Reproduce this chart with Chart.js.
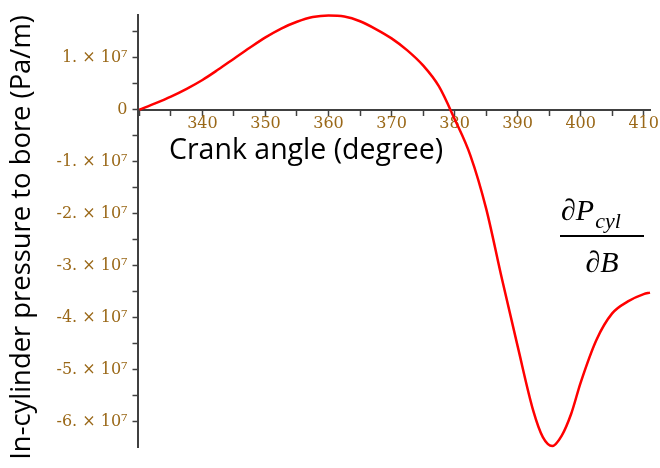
<!DOCTYPE html>
<html>
<head>
<meta charset="utf-8">
<title>In-cylinder pressure to bore</title>
<script src="https://cdn.jsdelivr.net/npm/chart.js@4/dist/chart.umd.min.js"></script>
<style>
  html, body { margin: 0; padding: 0; background: #fff; }
</style>
</head>
<body>
<canvas id="pressureChart" width="660" height="468"></canvas>
<script>
// values
const crankAngle = [330, 332.5, 335, 337.5, 340, 342.5, 345, 347.5, 350, 352.5, 355, 357.5, 360, 362.5,
  365, 367.5, 370, 372.5, 375, 377.5, 380, 382.5, 385, 387.5, 390, 392.5, 394, 395.5, 397, 398.5, 400,
  402.5, 405, 407.5, 410, 411];
const dPdB = [0, 0.12e7, 0.25e7, 0.40e7, 0.57e7, 0.77e7, 0.98e7, 1.19e7, 1.39e7, 1.56e7, 1.69e7, 1.78e7, 1.81e7, 1.79e7,
  1.70e7, 1.55e7, 1.37e7, 1.14e7, 0.85e7, 0.45e7, -0.18e7, -0.88e7, -1.9e7, -3.25e7, -4.55e7, -5.8e7, -6.3e7, -6.47e7, -6.27e7, -5.85e7, -5.25e7,
  -4.43e7, -3.92e7, -3.69e7, -3.55e7, -3.52e7];

// tick marks (every 5 degrees / 0.5e7) and the ones that get a label
const xTicks = [330, 335, 340, 345, 350, 355, 360, 365, 370, 375, 380, 385, 390, 395, 400, 405, 410];
const xLabelled = [340, 350, 360, 370, 380, 390, 400, 410];
const yTicks = [1.5e7, 1e7, 0.5e7, 0, -0.5e7, -1e7, -1.5e7, -2e7, -2.5e7, -3e7, -3.5e7, -4e7, -4.5e7, -5e7, -5.5e7, -6e7];
const yLabelled = [1e7, 0, -1e7, -2e7, -3e7, -4e7, -5e7, -6e7];

const xTitle = 'Crank angle (degree)';
const yTitle = 'In-cylinder pressure to bore (Pa/m)';

const axisColor = '#404040';
const tickColor = '#9a6818';

function yLabel(v) {                 // maple style "-3. × 10^7"
  if (!yLabelled.includes(v)) return '';
  if (v === 0) return '0';
  return (v < 0 ? '-' : '') + Math.abs(v / 1e7) + '. \u00d7 10\u2077';
}

function fitFont(ctx, text, family, width) {   // font size so the text is this wide
  ctx.font = '20px ' + family;
  const size = 20 * width / ctx.measureText(text).width;
  return size.toFixed(1) + 'px ' + family;
}

const annotations = {                // axis titles + the formula, drawn on top
  id: 'annotations',
  afterDraw(chart) {
    const ctx = chart.ctx;
    ctx.save();
    ctx.fillStyle = '#000';
    ctx.textBaseline = 'middle';
    ctx.textAlign = 'left';
    ctx.font = fitFont(ctx, xTitle, '"Open Sans"', 274);
    ctx.fillText(xTitle, 169, 151);

    ctx.save();
    ctx.font = fitFont(ctx, yTitle, '"Open Sans"', 445);
    ctx.translate(22, 237.5);
    ctx.rotate(-Math.PI / 2);
    ctx.textAlign = 'center';
    ctx.fillText(yTitle, 0, 0);
    ctx.restore();

    // dP_cyl / dB
    ctx.textBaseline = 'alphabetic';
    ctx.font = 'italic 30px "Liberation Serif"';
    ctx.fillText('\u2202P', 561, 220);
    const w = ctx.measureText('\u2202P').width;
    ctx.font = 'italic 22px "Liberation Serif"';
    ctx.fillText('cyl', 561 + w + 1, 228);
    ctx.fillRect(560, 235, 84, 2);
    ctx.font = 'italic 30px "Liberation Serif"';
    ctx.textAlign = 'center';
    ctx.fillText('\u2202B', 602, 272);
    ctx.restore();
  }
};

const ctx = document.getElementById('pressureChart').getContext('2d');
const pressureChart = new Chart(ctx, {
  type: 'line',
  data: {
    datasets: [{
      data: crankAngle.map((a, i) => ({ x: a, y: dPdB[i] })),
      borderColor: '#ff0000',
      borderWidth: 2.5,
      pointRadius: 0,
      cubicInterpolationMode: 'monotone',
      fill: false,
      clip: false,
    }],
  },
  options: {
    responsive: false,
    animation: false,
    layout: { padding: { top: 15, right: 10, bottom: 21, left: 0 } },
    plugins: { legend: { display: false }, tooltip: { enabled: false } },
    scales: {
      x: {
        type: 'linear',
        position: { y: 0 },          // x axis crosses at y = 0
        min: 329.7,
        max: 411,
        border: { color: axisColor, width: 2 },
        grid: { drawOnChartArea: false, drawTicks: true, tickLength: 5, color: axisColor, tickWidth: 1.5 },
        ticks: {
          autoSkip: false,
          maxRotation: 0,
          padding: 0,
          color: tickColor,
          font: { family: 'DejaVu Serif', size: 16 },
          callback: (v) => xLabelled.includes(v) ? String(v) : '',
        },
        afterBuildTicks(s) { s.ticks = xTicks.map(v => ({ value: v })); },
        afterFit(s) { s.paddingLeft = 0; s.paddingRight = 0; },
      },
      y: {
        type: 'linear',
        position: 'left',
        min: -6.49e7,
        max: 1.82e7,
        border: { color: axisColor, width: 2 },
        grid: { drawOnChartArea: false, drawTicks: true, tickLength: 5, color: axisColor, tickWidth: 1.5 },
        ticks: {
          autoSkip: false,
          padding: 5,
          color: tickColor,
          font: { family: 'DejaVu Serif', size: 16 },
          callback: (v) => yLabel(v),
        },
        afterBuildTicks(s) { s.ticks = yTicks.map(v => ({ value: v })); },
        afterFit(s) { s.width = 137.5; s.paddingTop = 0; s.paddingBottom = 0; },
      },
    },
  },
  plugins: [annotations],
});
</script>
</body>
</html>
